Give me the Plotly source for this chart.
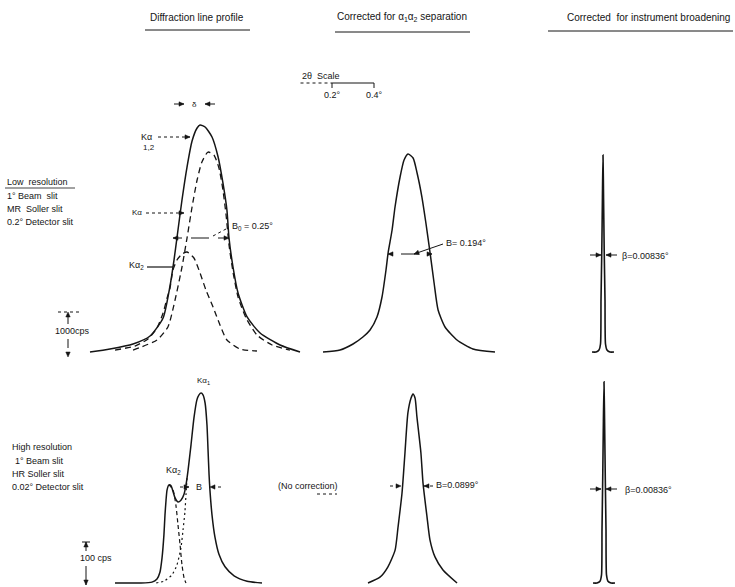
import plotly.graph_objects as go

W, H = 735, 587
FONT = "Liberation Sans, Arial, sans-serif"
INK = "#151515"

# ---------------- data: 2θ offset (deg) and intensity (counts/s) ----------------
# Low resolution – diffraction line profile (Kα1,2 doublet, solid)
low_ka12_2t = [0.000, 0.095, 0.205, 0.286, 0.348, 0.381, 0.400, 0.414, 0.438, 0.462, 0.486, 0.510, 0.524,
               0.548, 0.581, 0.610, 0.633, 0.652, 0.662, 0.681, 0.705, 0.748, 0.810, 0.905, 1.000]
low_ka12_cps = [0, 67, 178, 356, 756, 1470, 2044, 2533, 3378, 4111, 4689, 4978, 5044,
                5000, 4778, 4333, 3756, 3156, 2533, 1889, 1311, 778, 422, 156, 0]
# Kα1 component (dashed)
low_ka1_2t = [0.205, 0.319, 0.371, 0.405, 0.438, 0.462, 0.486, 0.510, 0.533, 0.562, 0.590, 0.614, 0.633,
              0.648, 0.662, 0.681, 0.705, 0.743, 0.795, 0.867, 0.952]
low_ka1_cps = [44, 267, 556, 1156, 1889, 2533, 3222, 3822, 4222, 4444, 4378, 4089, 3600,
               3044, 2378, 1778, 1222, 756, 378, 156, 44]
# Kα2 component (dashed)
low_ka2_2t = [0.119, 0.214, 0.276, 0.319, 0.348, 0.367, 0.381, 0.395, 0.414, 0.438, 0.462, 0.495, 0.524,
              0.552, 0.586, 0.619, 0.652, 0.714, 0.795]
low_ka2_cps = [44, 133, 289, 533, 867, 1200, 1422, 1822, 2044, 2178, 2222, 2089, 1756,
               1378, 1000, 600, 267, 67, 22]
# Low resolution – corrected for α1α2 separation
low_sep_2t = [0.000, 0.081, 0.143, 0.190, 0.224, 0.257, 0.281, 0.300, 0.310, 0.329, 0.343, 0.367, 0.386,
              0.405, 0.429, 0.448, 0.471, 0.490, 0.510, 0.529, 0.548, 0.581, 0.638, 0.714, 0.819]
low_sep_cps = [0, 44, 178, 333, 489, 778, 1222, 1822, 2200, 2711, 3222, 3889, 4267,
               4400, 4311, 3978, 3444, 2867, 2200, 1533, 933, 556, 267, 67, 0]
# Low resolution – corrected for instrument broadening
low_inst_2t = [0.000, 0.019, 0.0333, 0.0405, 0.0429, 0.0467, 0.0495, 0.0524, 0.0552, 0.0581, 0.0619,
               0.0643, 0.0714, 0.0857, 0.1048]
low_inst_cps = [0, 0, 44, 178, 1156, 2267, 3378, 4378, 3378, 2267, 1156, 178, 44, 0, 0]

# High resolution – diffraction line profile (resolved doublet, solid)
high_ka12_2t = [0.000, 0.119, 0.176, 0.200, 0.214, 0.224, 0.233, 0.238, 0.243, 0.248, 0.257, 0.267, 0.276,
                0.286, 0.300, 0.314, 0.329, 0.338, 0.348, 0.362, 0.376, 0.390, 0.400, 0.410, 0.419, 0.429,
                0.438, 0.443, 0.448, 0.452, 0.462, 0.476, 0.495, 0.524, 0.567, 0.629, 0.700]
high_ka12_cps = [0, 0, 2, 9, 24, 56, 107, 151, 184, 207, 218, 216, 204,
                 189, 180, 184, 198, 218, 251, 307, 367, 407, 418, 422, 418, 400,
                 351, 296, 240, 207, 151, 102, 64, 36, 16, 4, 0]
high_ka2_2t = [0.257, 0.276, 0.290, 0.300, 0.310, 0.319, 0.329, 0.338]
high_ka2_cps = [218, 207, 173, 129, 84, 40, 11, 0]
high_ka1_2t = [0.343, 0.338, 0.333, 0.324, 0.314, 0.295, 0.271, 0.233, 0.190]
high_ka1_cps = [233, 196, 158, 118, 78, 40, 18, 4, 0]
# High resolution – no α1α2 correction applied
high_sep_2t = [0.000, 0.057, 0.095, 0.129, 0.143, 0.162, 0.176, 0.190, 0.205, 0.214, 0.224, 0.233, 0.252,
               0.262, 0.281, 0.295, 0.319, 0.357, 0.424]
high_sep_cps = [0, 13, 36, 73, 124, 200, 289, 378, 411, 420, 411, 369, 289,
                222, 147, 96, 58, 29, 0]
# High resolution – corrected for instrument broadening
high_inst_2t = [0.000, 0.019, 0.0333, 0.0405, 0.0429, 0.0462, 0.0490, 0.0524, 0.0557, 0.0586, 0.0619,
                0.0643, 0.0714, 0.0857, 0.1048]
high_inst_cps = [0, 0, 4, 18, 118, 229, 340, 447, 340, 229, 118, 18, 4, 0, 0]

scale_ticks_deg = [0.2, 0.4]
scale_labels = ["0.2°", "0.4°"]

# ---------------- layout geometry ----------------
PX_PER_DEG = 210.0
def fx(px): return px / W
def fy(py): return 1 - py / H

ROW1 = dict(top=100, bottom=360, base=352, k=1000 / 45.0)
ROW2 = dict(top=380, bottom=587, base=583, k=100 / 45.0)
def yrange(r): return [(r["base"] - r["bottom"]) * r["k"], (r["base"] - r["top"]) * r["k"]]

off = {  # panel origins on the 2θ axis (deg)
    "A": 90 / PX_PER_DEG, "B": 323 / PX_PER_DEG, "C": 592 / PX_PER_DEG,
    "D": 115 / PX_PER_DEG, "E": 368 / PX_PER_DEG, "F": 593 / PX_PER_DEG,
}

fig = go.Figure()
def curve(xs, ys, o, yax, dash="solid", width=1.5):
    fig.add_trace(go.Scatter(x=[o + v for v in xs], y=ys, mode="lines", xaxis="x", yaxis=yax,
                             line=dict(color=INK, width=width, dash=dash, shape="spline", smoothing=0.6),
                             hoverinfo="skip", showlegend=False))

curve(low_ka12_2t, low_ka12_cps, off["A"], "y")
curve(low_ka1_2t, low_ka1_cps, off["A"], "y", dash="6px,4px", width=1.3)
curve(low_ka2_2t, low_ka2_cps, off["A"], "y", dash="6px,4px", width=1.3)
curve(low_sep_2t, low_sep_cps, off["B"], "y")
curve(low_inst_2t, low_inst_cps, off["C"], "y", width=1.6)
curve(high_ka12_2t, high_ka12_cps, off["D"], "y2")
curve(high_ka2_2t, high_ka2_cps, off["D"], "y2", dash="4px,3px", width=1.2)
curve(high_ka1_2t, high_ka1_cps, off["D"], "y2", dash="2px,3px", width=1.2)
curve(high_sep_2t, high_sep_cps, off["E"], "y2")
curve(high_inst_2t, high_inst_cps, off["F"], "y2", width=1.6)

shapes, anns = [], []
def txt(s, x, y, size=9, anchor="left"):
    anns.append(dict(text=s, x=fx(x), y=fy(y), xref="paper", yref="paper", xanchor=anchor,
                     yanchor="middle", showarrow=False, font=dict(family=FONT, size=size, color=INK)))
def line(x0, y0, x1, y1, dash="solid", w=1.0):
    shapes.append(dict(type="line", xref="paper", yref="paper", x0=fx(x0), y0=fy(y0), x1=fx(x1), y1=fy(y1),
                       line=dict(color=INK, width=w, dash=dash)))
def head(xt, yt, xs, ys, L=5.0, hw=2.2):
    dx, dy = xs - xt, ys - yt
    n = max((dx * dx + dy * dy) ** 0.5, 1e-6)
    ux, uy = dx / n, dy / n
    bx, by = xt + ux * L, yt + uy * L
    p1 = (bx - uy * hw, by + ux * hw)
    p2 = (bx + uy * hw, by - ux * hw)
    path = "M {:.5f},{:.5f} L {:.5f},{:.5f} L {:.5f},{:.5f} Z".format(
        fx(xt), fy(yt), fx(p1[0]), fy(p1[1]), fx(p2[0]), fy(p2[1]))
    shapes.append(dict(type="path", xref="paper", yref="paper", path=path,
                       fillcolor=INK, line=dict(color=INK, width=0.5)))
def arrow(xt, yt, xs, ys, dash="dot"):
    line(xs, ys, xt, yt, dash=dash, w=1.0)
    head(xt, yt, xs, ys)

# titles
txt("Diffraction line profile", 197, 17, 10, "center"); line(145, 30, 250, 30)
txt("Corrected for α<sub>1</sub>α<sub>2</sub> separation", 402, 17, 10, "center"); line(335, 32, 470, 32)
txt("Corrected  for instrument broadening", 732, 17, 10, "right"); line(548, 31, 733, 31)

# 2θ scale bar (drawn on the 2θ axis)
sc0 = 290 / PX_PER_DEG
shapes.append(dict(type="line", xref="x", yref="paper", x0=sc0 + 0.05, x1=sc0 + scale_ticks_deg[0],
                   y0=fy(83), y1=fy(83), line=dict(color=INK, width=1, dash="dot")))
shapes.append(dict(type="line", xref="x", yref="paper", x0=sc0 + scale_ticks_deg[0], x1=sc0 + scale_ticks_deg[1],
                   y0=fy(83), y1=fy(83), line=dict(color=INK, width=1)))
for t, lab in zip(scale_ticks_deg, scale_labels):
    shapes.append(dict(type="line", xref="x", yref="paper", x0=sc0 + t, x1=sc0 + t, y0=fy(83), y1=fy(88),
                       line=dict(color=INK, width=1)))
    anns.append(dict(text=lab, x=sc0 + t, y=fy(95), xref="x", yref="paper", xanchor="center", yanchor="middle",
                     showarrow=False, font=dict(family=FONT, size=9, color=INK)))
txt("2θ  Scale", 300, 76, 9)

# row 1 side labels
txt("Low  resolution", 5, 182, 9); line(5, 188, 75, 188, w=0.8)
txt("1° Beam  slit", 5, 196, 9)
txt("MR  Soller slit", 5, 209, 9)
txt("0.2° Detector slit", 5, 222, 9)
txt("1000cps", 72, 331, 9, "center")
line(58, 312, 80, 312, dash="dot")
arrow(68, 312, 68, 324, dash="dash")
arrow(68, 357, 68, 339, dash="dash")

# panel A annotations
arrow(184, 104, 174, 104, dash="solid"); arrow(205, 104, 215, 104, dash="solid")
txt("δ", 194, 104, 8, "center")
txt("Kα", 146, 137, 9, "center"); txt("1,2", 149, 148, 8, "center")
arrow(190, 137, 158, 137)
txt("Kα", 137, 213, 8, "center"); arrow(184, 213, 146, 213)
arrow(173, 238, 200, 238, dash="dash"); arrow(229, 238, 200, 238, dash="dash")
line(213, 236, 226, 229, dash="dot")
txt("B<sub>0</sub> = 0.25°", 230, 226, 9)
txt("Kα<sub>2</sub>", 136, 265, 9, "center"); line(147, 267, 173, 267, w=1.2)

# panel B
arrow(388, 254, 410, 254, dash="dash"); arrow(432, 254, 410, 254, dash="dash")
arrow(414, 254, 443, 244, dash="solid")
txt("B= 0.194°", 444, 243, 9)

# panel C
arrow(601, 255, 590, 255, dash="solid"); arrow(606, 255, 617, 255, dash="solid")
txt("β=0.00836°", 620, 256, 9)

# row 2 side labels
txt("High resolution", 10, 447, 9)
txt("1° Beam slit", 13, 461, 9)
txt("HR Soller slit", 10, 474, 9)
txt("0.02° Detector slit", 10, 487, 9)
txt("100 cps", 96, 558, 9, "center")
line(82, 542, 90, 542, w=1)
arrow(86, 542, 86, 551, dash="solid")
arrow(86, 585, 86, 566, dash="solid")

# panel D
txt("Kα<sub>1</sub>", 203, 381, 8, "center")
txt("Kα<sub>2</sub>", 173, 470, 9, "center")
txt("B", 199, 487, 9, "center")
arrow(189, 487, 180, 487); arrow(210, 487, 221, 487)

# panel E
txt("(No correction)", 308, 486, 9, "center"); line(317, 494, 337, 494, dash="dot")
arrow(401, 486, 390, 486); arrow(424, 486, 433, 486)
txt("B=0.0899°", 434, 485, 9)

# panel F
arrow(601, 489, 590, 489, dash="solid"); arrow(606, 489, 617, 489, dash="solid")
txt("β=0.00836°", 623, 490, 9)

fig.update_layout(
    width=W, height=H, margin=dict(l=0, r=0, t=0, b=0),
    paper_bgcolor="white", plot_bgcolor="white", showlegend=False,
    xaxis=dict(domain=[0, 1], range=[0, W / PX_PER_DEG], visible=False, fixedrange=True),
    yaxis=dict(domain=[fy(ROW1["bottom"]), fy(ROW1["top"])], range=yrange(ROW1), visible=False, anchor="x"),
    yaxis2=dict(domain=[fy(ROW2["bottom"]), fy(ROW2["top"])], range=yrange(ROW2), visible=False, anchor="x"),
    shapes=shapes, annotations=anns,
)
fig.write_html("out.html", config={"displayModeBar": False, "staticPlot": True},
               post_script="document.body.style.margin='0px';document.body.style.overflow='hidden';")
